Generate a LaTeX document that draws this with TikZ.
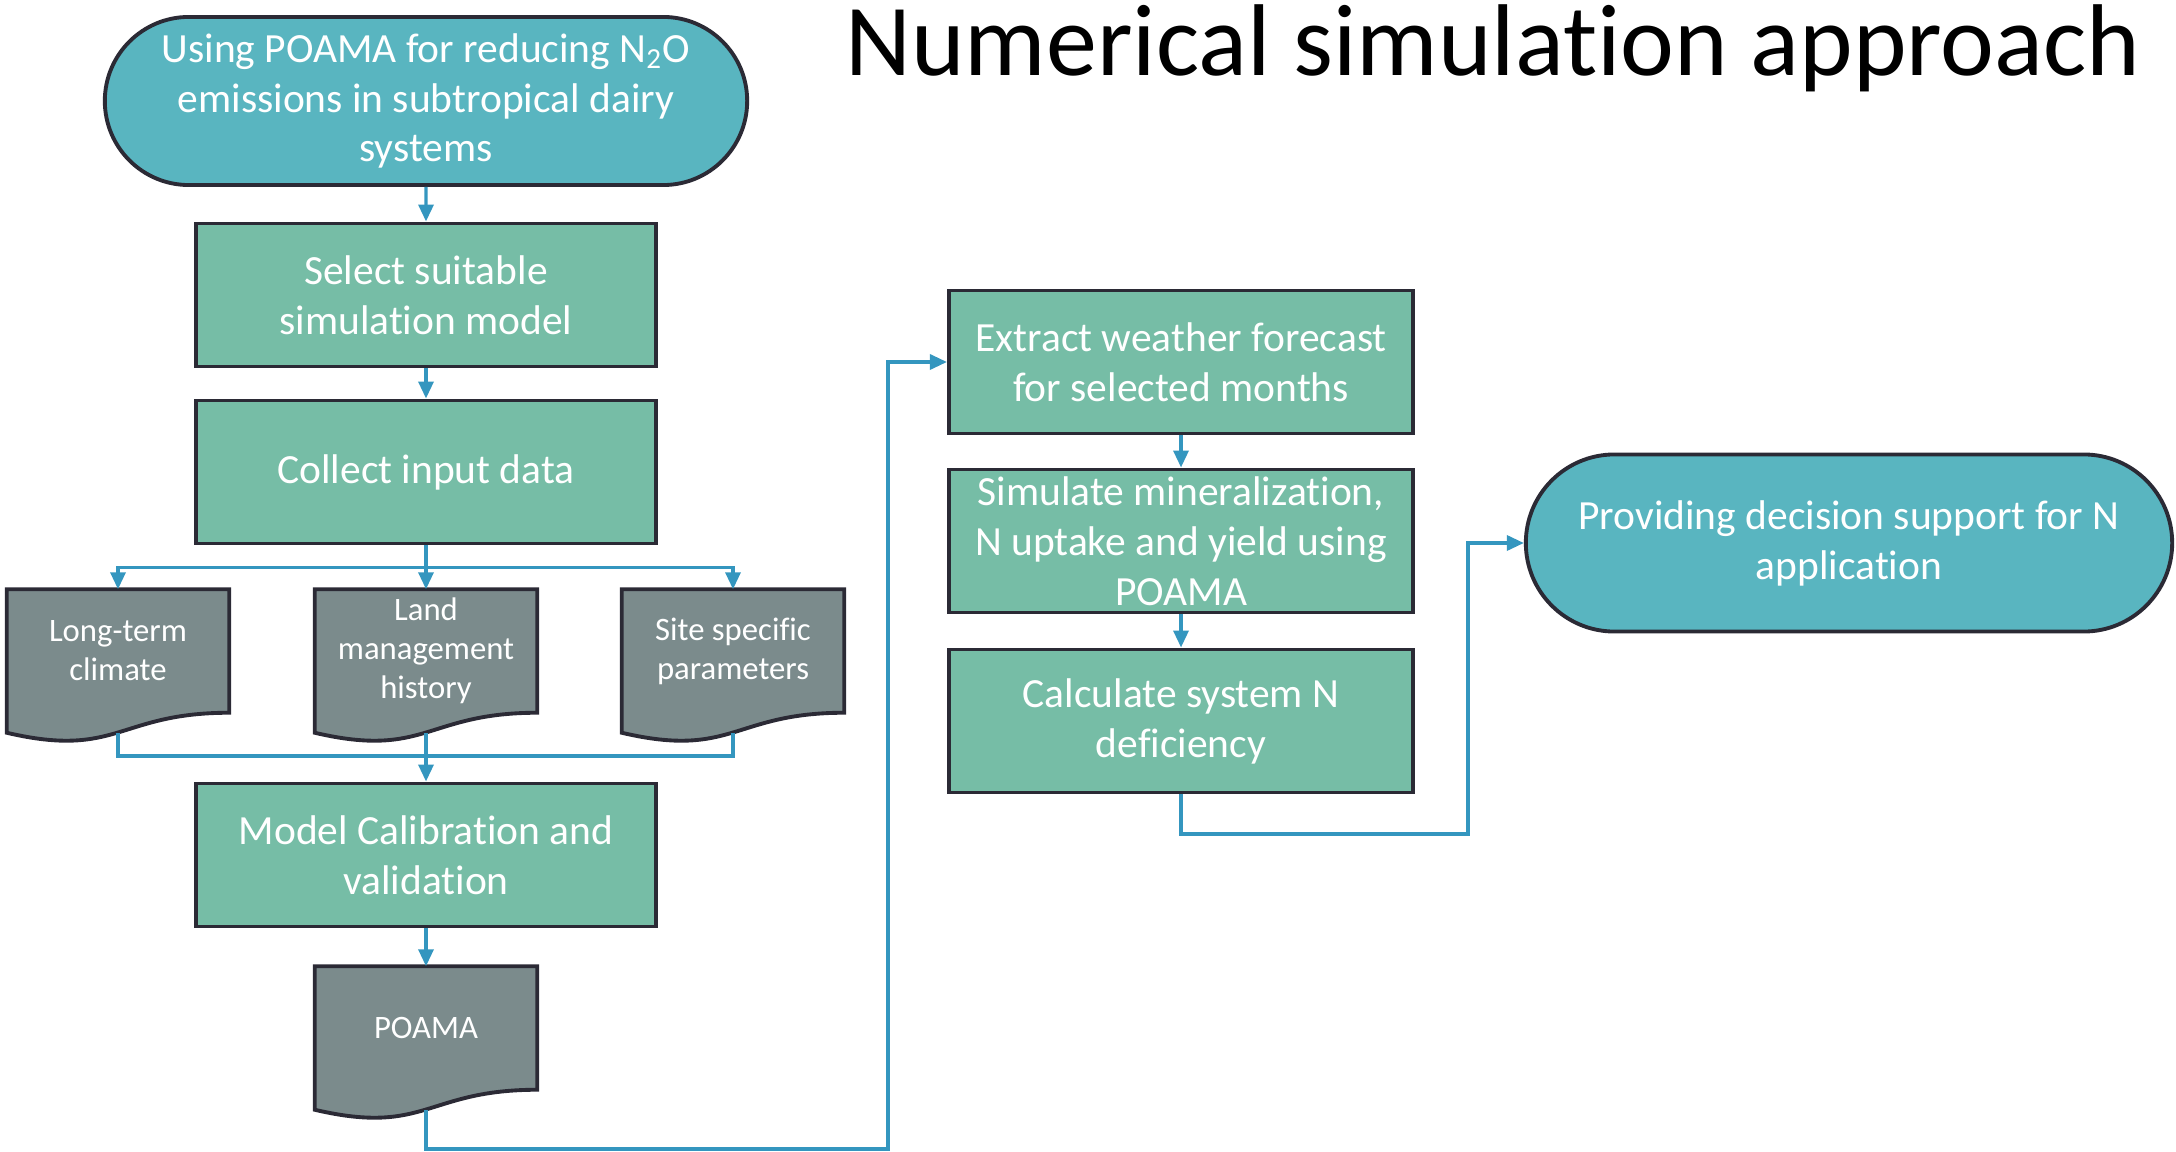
\documentclass[tikz,border=0pt]{standalone}
\usepackage{fontspec}
\setmainfont{Carlito}[Ligatures=NoCommon]
\usetikzlibrary{arrows.meta}
\usetikzlibrary{backgrounds}
\usetikzlibrary{calc}
\usetikzlibrary{shapes.misc}

\definecolor{termfill}{RGB}{89,181,192}
\definecolor{stepfill}{RGB}{118,189,166}
\definecolor{docfill}{RGB}{123,139,140}
\definecolor{rim}{RGB}{43,42,53}
\definecolor{flowblue}{RGB}{52,150,191}

\tikzset{
	flowline/.style={draw=flowblue, line width=0.95pt},
	link/.style={flowline, -{Triangle[length=0.17cm, width=0.15cm]}}
}

\begin{document}
\begin{tikzpicture}[x=0.01cm, y=-0.01cm]
	\useasboundingbox (0,0) rectangle (2176,1152);

	\node[anchor=base, font=\fontsize{29}{35}\selectfont] (title) at (1493,76) {Numerical simulation approach};

	\begin{scope}[every node/.style={rounded rectangle, draw=rim, line width=1.1pt, fill=termfill, text=white, align=center, inner sep=0pt, font=\fontsize{11.8}{14.2}\selectfont}]
		\node[minimum width=6.42cm, minimum height=1.68cm] (goal) at (426,101) {Using POAMA for reducing N\textsubscript{2}O\\emissions in subtropical dairy\\systems};
		\node[minimum width=6.46cm, minimum height=1.77cm] (advice) at (1849,543) {Providing decision support for N\\application};
	\end{scope}

	\begin{scope}[every node/.style={rectangle, draw=rim, line width=1.1pt, fill=stepfill, text=white, align=center, inner sep=0pt, minimum width=4.6cm, minimum height=1.43cm, font=\fontsize{11.8}{14.2}\selectfont}]
		\node (select) at (426,295) {Select suitable\\simulation model};
		\node (collect) at (426,472) {Collect input data};
		\node (calib) at (426,855) {Model Calibration and\\validation};
		\node[minimum width=4.64cm] (extract) at (1181,362) {Extract weather forecast\\for selected months};
		\node[minimum width=4.64cm] (simulate) at (1181,541) {Simulate mineralization,\\N uptake and yield using\\POAMA};
		\node[minimum width=4.64cm] (deficit) at (1181,721) {Calculate system N\\deficiency};
	\end{scope}

	\begin{scope}[every node/.style={rectangle, text=white, align=center, inner sep=0pt, minimum width=2.21cm, minimum height=1.22cm, font=\fontsize{9.3}{11.1}\selectfont}]
		\node (climate) at (118,651) {Long-term\\climate};
		\node (landuse) at (426,651) {Land\\management\\history};
		\node (site) at (733,651) {Site specific\\parameters};
		\node (poama) at (426,1028) {POAMA};
	\end{scope}

	\begin{scope}[on background layer]
		\foreach \d in {climate, landuse, site, poama}
			\draw[draw=rim, line width=1.1pt, fill=docfill] (\d.north west) -- (\d.north east) -- (\d.south east)
				.. controls (\d.south) and ([yshift=-0.46cm]\d.south) .. ([yshift=-0.2cm]\d.south west) -- cycle;
	\end{scope}

	\coordinate (join) at (426,756);
	\coordinate (bend) at (888,1149);
	\coordinate (turn) at (1468,834);

	\draw[link] (goal) -- (select);
	\draw[link] (select) -- (collect);
	\draw[link] (collect.south) -- ++(0,22) -| (climate.north);
	\draw[link] (collect.south) -- (landuse.north);
	\draw[link] (collect.south) -- ++(0,22) -| (site.north);
	\draw[flowline] ([yshift=-0.2cm]climate.south) |- (join);
	\draw[flowline] ([yshift=-0.2cm]site.south) |- (join);
	\draw[link] ([yshift=-0.2cm]landuse.south) -- (calib.north);
	\draw[link] (calib) -- (poama);
	\draw[link] ([yshift=-0.2cm]poama.south) |- (bend) |- (extract.west);
	\draw[link] (extract) -- (simulate);
	\draw[link] (simulate) -- (deficit);
	\draw[link] (deficit.south) |- (turn) |- (advice.west);
\end{tikzpicture}
\end{document}
